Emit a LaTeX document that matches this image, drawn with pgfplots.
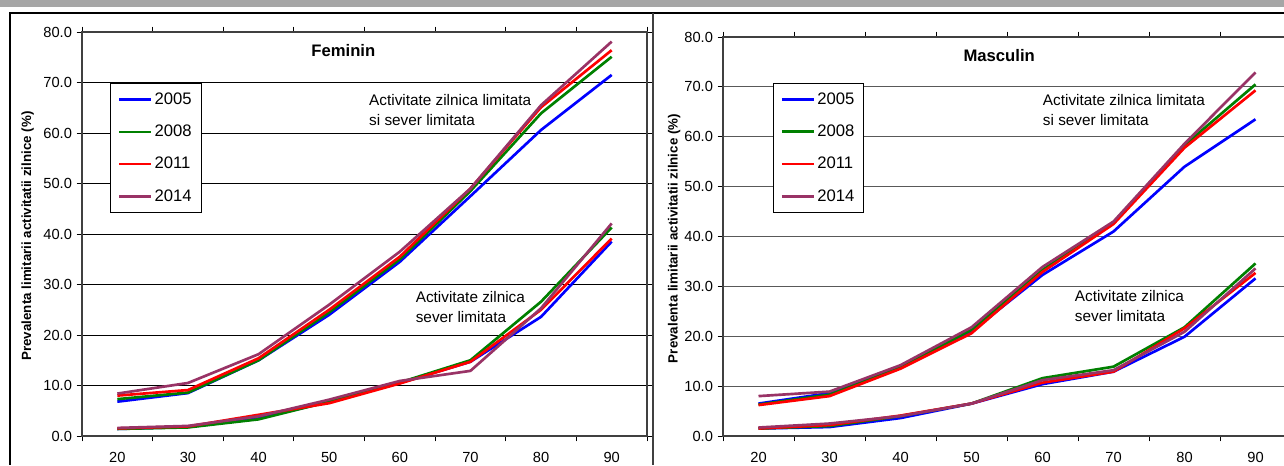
\documentclass[border=0pt]{standalone}
\usepackage{pgfplots}
\pgfplotsset{compat=1.18}
\usepackage{pgfplotstable}
\usepackage{fontspec}
\setmainfont{Liberation Sans}

\definecolor{c05}{RGB}{0,0,255}
\definecolor{c08}{RGB}{0,128,0}
\definecolor{c11}{RGB}{255,0,0}
\definecolor{c14}{RGB}{153,51,102}

% Feminin, limitata si sever limitata
\pgfplotstableread{
x   a05  a08  a11  a14
20  6.8  7.3  8.0  8.4
30  8.5  8.6  9.1  10.5
40  15.0 15.0 15.4 16.2
50  24.0 24.5 25.0 26.0
60  34.5 35.0 35.5 36.5
70  47.5 48.5 49.0 49.0
80  60.6 63.9 65.1 65.5
90  71.5 75.1 76.4 78.1
}\femall
% Feminin, sever limitata
\pgfplotstableread{
x   a05  a08  a11  a14
20  1.4  1.4  1.5  1.6
30  1.8  1.7  1.9  2.0
40  3.5  3.3  4.2  3.9
50  6.8  6.8  6.5  7.2
60  10.5 10.6 10.4 10.9
70  14.7 15.0 14.7 12.9
80  23.6 26.6 25.0 25.3
90  38.5 41.3 39.1 42.1
}\femsev
% Masculin, limitata si sever limitata
\pgfplotstableread{
x   a05  a08  a11  a14
20  6.5  6.3  6.2  8.0
30  8.6  8.3  8.0  8.9
40  14.0 13.7 13.5 14.2
50  21.0 21.3 20.6 21.8
60  32.3 33.3 32.9 33.9
70  41.0 42.8 42.5 43.0
80  54.0 58.3 57.8 58.6
90  63.5 70.5 69.3 72.9
}\masall
% Masculin, sever limitata
\pgfplotstableread{
x   a05  a08  a11  a14
20  1.5  1.5  1.5  1.7
30  1.8  2.0  2.2  2.5
40  3.6  4.0  4.1  4.0
50  6.5  6.5  6.5  6.5
60  10.4 11.6 10.7 11.2
70  12.9 13.9 12.9 13.2
80  19.9 21.8 21.6 20.9
90  31.6 34.6 32.7 33.6
}\massev

\tikzset{
  txt/.style={font=\fontsize{11.5}{15}\selectfont, anchor=west, align=left},
  ttl/.style={font=\bfseries\fontsize{12.5}{14}\selectfont},
}
\pgfplotsset{
  panel/.style={
    scale only axis, anchor=south west,
    xmin=15, xmax=95, ymin=0, ymax=80,
    xtick={15,25,...,95},
    x tick label as interval,
    xticklabels={20,30,40,50,60,70,80,90},
    ytick={0,10,...,80},
    tick align=outside,
    major tick length=4pt,
    tick style={black, line width=0.6pt},
    ymajorgrids,
    axis line style={black!75, line width=0.8pt},
    ticklabel style={font=\fontsize{11}{13}\selectfont},
    xticklabel style={yshift=-4.5pt},
    yticklabel style={/pgf/number format/.cd, fixed, fixed zerofill, precision=1, assume math mode=true},
    ylabel={\bfseries Prevalenta limitarii activitatii zilnice (\%)},
    ylabel style={font=\fontsize{13}{15}\selectfont},
    legend cell align=left,
    legend image code/.code={\draw[#1, line width=1.9pt] (0pt,0pt) -- (24pt,0pt);},
    legend style={anchor=north west, draw=black, line width=0.6pt,
      font=\fontsize{12.5}{15}\selectfont, row sep=11pt, inner sep=5.5pt,
      nodes={inner sep=1.5pt}},
    every axis plot/.append style={line width=2pt},
  },
}

\begin{document}
\begin{tikzpicture}[x=0.75pt, y=-0.75pt]
\fill[white] (0,0) rectangle (1284,465);
\fill[black!35] (0,0) rectangle (1284,7);
\draw[black, line width=1.5pt] (9,13) -- (1284,13);
\draw[black, line width=1.5pt] (10,13) -- (10,465);
\draw[black!75, line width=1.1pt] (653,13) -- (653,465);

\begin{axis}[panel,
  at={(61.5pt,-327pt)}, width=423.75pt, height=303pt,
  grid style={black, line width=0.7pt},
  every axis y label/.style={at={(axis description cs:-0.096,0.495)}, rotate=90, anchor=center},
  legend style={at={(0.05,0.874)}},
]
\addplot[c05] table[x=x, y=a05] {\femall};
\addplot[c08] table[x=x, y=a08] {\femall};
\addplot[c11] table[x=x, y=a11] {\femall};
\addplot[c14] table[x=x, y=a14] {\femall};
\legend{2005,2008,2011,2014}
\addplot[c05, forget plot] table[x=x, y=a05] {\femsev};
\addplot[c08, forget plot] table[x=x, y=a08] {\femsev};
\addplot[c11, forget plot] table[x=x, y=a11] {\femsev};
\addplot[c14, forget plot] table[x=x, y=a14] {\femsev};
\node[ttl] at (axis cs:52,76.4) {Feminin};
\node[txt] at (axis cs:55.0,64.6) {Activitate zilnica limitata\\si sever limitata};
\node[txt] at (axis cs:61.6,25.5) {Activitate zilnica\\sever limitata};
\end{axis}

\begin{axis}[panel,
  at={(542.25pt,-327pt)}, width=426pt, height=299.25pt,
  grid style={black!65, line width=0.9pt},
  every axis y label/.style={at={(axis description cs:-0.086,0.495)}, rotate=90, anchor=center},
  legend style={at={(0.088,0.885)}},
]
\addplot[c05] table[x=x, y=a05] {\masall};
\addplot[c08] table[x=x, y=a08] {\masall};
\addplot[c11] table[x=x, y=a11] {\masall};
\addplot[c14] table[x=x, y=a14] {\masall};
\legend{2005,2008,2011,2014}
\addplot[c05, forget plot] table[x=x, y=a05] {\massev};
\addplot[c08, forget plot] table[x=x, y=a08] {\massev};
\addplot[c11, forget plot] table[x=x, y=a11] {\massev};
\addplot[c14, forget plot] table[x=x, y=a14] {\massev};
\node[ttl] at (axis cs:53.9,76.2) {Masculin};
\node[txt] at (axis cs:59.4,65.3) {Activitate zilnica limitata\\si sever limitata};
\node[txt] at (axis cs:63.9,26.05) {Activitate zilnica\\sever limitata};
\end{axis}

\pgfresetboundingbox
\path[use as bounding box] (0,0) rectangle (1284,465);
\end{tikzpicture}
\end{document}
